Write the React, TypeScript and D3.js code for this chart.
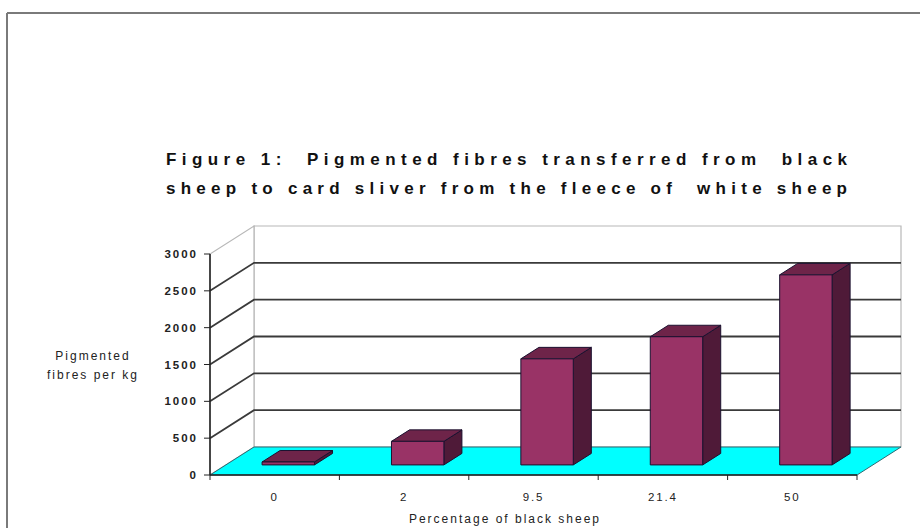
import React from "react";
import * as d3 from "d3";

const categories = ["0", "2", "9.5", "21.4", "50"];
const values = [40, 320, 1440, 1740, 2580];
const yTicks = [0, 500, 1000, 1500, 2000, 2500, 3000];
const titleLines = [
  "Figure 1:  Pigmented fibres transferred from  black",
  "sheep to card sliver from the fleece of  white sheep",
];
const yTitleLines = ["Pigmented", "fibres per kg"];
const xTitle = "Percentage of black sheep";

const W = 920;
const H = 528;
const DX = 44;
const DY = -28;
const FONT = "'Liberation Sans', Arial, sans-serif";

export default function App() {
  const y = d3.scaleLinear().domain([0, 3000]).range([475, 254]);
  const x = d3.scaleBand<string>().domain(categories).range([210, 857]);
  const bw = x.bandwidth();
  const p = (px: number, v: number, z: number): [number, number] => [px + z * DX, y(v) + z * DY];
  const poly = (pts: [number, number][]) => pts.map((q) => q.join(",")).join(" ");

  const x0 = x.range()[0];
  const x1 = x.range()[1];
  const zf = 0.36;
  const zb = 0.77;

  return (
    <svg width={W} height={H} style={{ position: "absolute", left: 0, top: 0, background: "#fff" }}>
      <rect x={0} y={0} width={W} height={H} fill="#fff" />
      {/* frame */}
      <line x1={7} y1={13} x2={W} y2={13} stroke="#7a7a7a" strokeWidth={2} />
      <line x1={7} y1={13} x2={7} y2={H} stroke="#7a7a7a" strokeWidth={2} />

      {/* title */}
      {titleLines.map((t, i) => (
        <text
          key={i}
          x={166}
          y={165 + i * 29}
          fontFamily={FONT}
          fontWeight="bold"
          fontSize={17}
          textLength={681}
          lengthAdjust="spacing"
          style={{ whiteSpace: "pre" }}
          fill="#111"
        >
          {t}
        </text>
      ))}

      {/* back wall */}
      <polygon
        points={poly([p(x0, 0, 1), p(x1, 0, 1), p(x1, 3000, 1), p(x0, 3000, 1)])}
        fill="#fff"
        stroke="#b8b8b8"
        strokeWidth={1.2}
      />
      {/* side wall */}
      <polygon
        points={poly([p(x0, 0, 0), p(x0, 0, 1), p(x0, 3000, 1), p(x0, 3000, 0)])}
        fill="#fff"
        stroke="#b8b8b8"
        strokeWidth={1.2}
      />

      {/* gridlines */}
      {yTicks
        .filter((t) => t > 0 && t < 3000)
        .map((t) => (
          <polyline
            key={t}
            points={poly([p(x0, t, 0), p(x0, t, 1), p(x1, t, 1)])}
            fill="none"
            stroke="#3a3a3a"
            strokeWidth={1.8}
          />
        ))}

      {/* floor */}
      <polygon
        points={poly([p(x0, 0, 0), p(x1, 0, 0), p(x1, 0, 1), p(x0, 0, 1)])}
        fill="#00ffff"
        stroke="#2d6b73"
        strokeWidth={1}
      />

      {/* bars */}
      {categories.map((c, i) => {
        const L = (x(c) as number) + bw * 0.28;
        const R = L + bw * 0.405;
        const v = values[i];
        return (
          <g key={c} stroke="#1c1230" strokeWidth={1} strokeLinejoin="round">
            <polygon points={poly([p(R, 0, zf), p(R, v, zf), p(R, v, zb), p(R, 0, zb)])} fill="#4f1a38" />
            <polygon points={poly([p(L, v, zf), p(R, v, zf), p(R, v, zb), p(L, v, zb)])} fill="#6e2449" />
            <polygon points={poly([p(L, 0, zf), p(R, 0, zf), p(R, v, zf), p(L, v, zf)])} fill="#993366" />
          </g>
        );
      })}

      {/* x axis */}
      <line x1={x0} y1={y(0)} x2={x1} y2={y(0)} stroke="#222" strokeWidth={1.6} />
      {[...categories.map((c) => x(c) as number), x1].map((t, i) => (
        <line key={i} x1={t} y1={y(0)} x2={t} y2={y(0) + 5} stroke="#222" strokeWidth={1} />
      ))}
      {categories.map((c) => (
        <text
          key={c}
          x={(x(c) as number) + bw / 2}
          y={501}
          textAnchor="middle"
          fontFamily={FONT}
          fontSize={11.5}
          letterSpacing={1.8}
          fill="#222"
        >
          {c}
        </text>
      ))}

      {/* y axis */}
      <line x1={x0} y1={y(0)} x2={x0} y2={y(3000)} stroke="#222" strokeWidth={1.6} />
      {yTicks.map((t) => (
        <g key={t}>
          <line x1={x0 - 6} y1={y(t)} x2={x0} y2={y(t)} stroke="#222" strokeWidth={1} />
          <text
            x={198}
            y={y(t) + 4}
            textAnchor="end"
            fontFamily={FONT}
            fontSize={11.5}
            fontWeight={600}
            letterSpacing={2}
            fill="#222"
          >
            {t}
          </text>
        </g>
      ))}

      {/* y title */}
      {yTitleLines.map((t, i) => (
        <text
          key={i}
          x={93}
          y={360 + i * 19}
          textAnchor="middle"
          fontFamily={FONT}
          fontSize={12}
          letterSpacing={2}
          fill="#222"
        >
          {t}
        </text>
      ))}

      {/* x title */}
      <text
        x={505}
        y={523}
        textAnchor="middle"
        fontFamily={FONT}
        fontSize={12}
        letterSpacing={2}
        fill="#222"
      >
        {xTitle}
      </text>
    </svg>
  );
}
